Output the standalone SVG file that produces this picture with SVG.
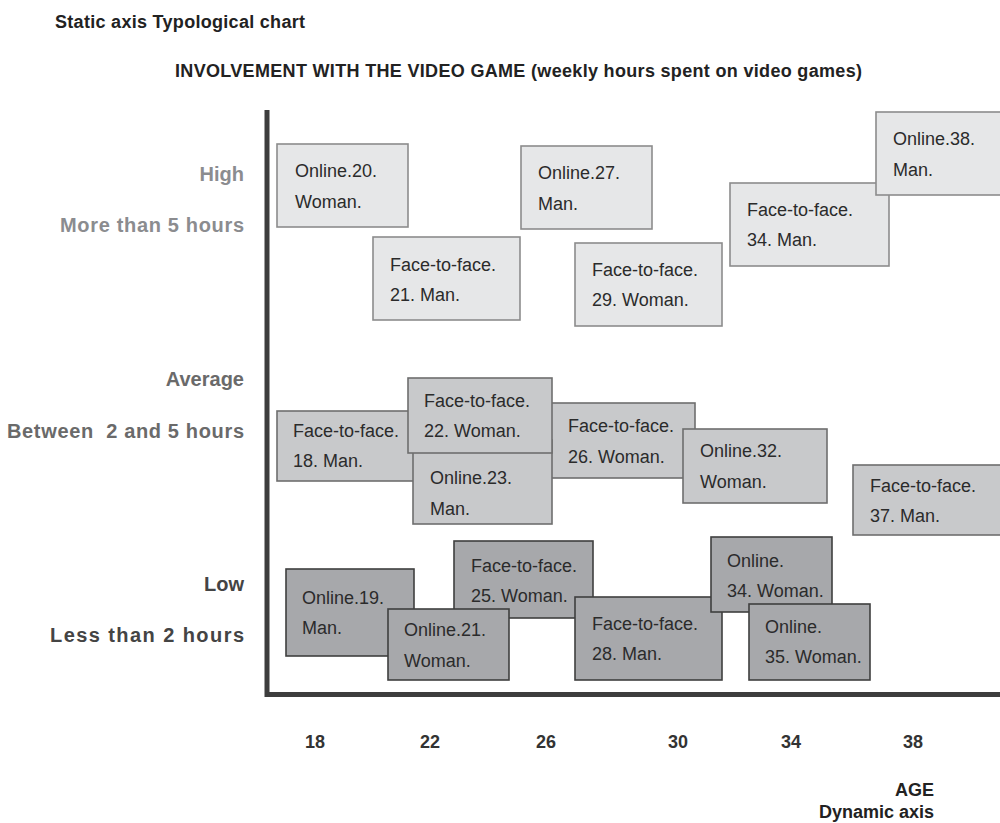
<svg xmlns="http://www.w3.org/2000/svg" width="1000" height="823" viewBox="0 0 1000 823">
<style>
text{font-family:"Liberation Sans",Arial,Helvetica,sans-serif}
.t{font-size:18px;fill:#2b2b2b}
.h{font-size:18px;font-weight:bold;fill:#222}
.lab{font-size:20px;font-weight:bold;text-anchor:end}
.num{font-size:18px;font-weight:bold;fill:#333;text-anchor:middle}
.hi rect{fill:#e6e7e8;stroke:#8c8c8c;stroke-width:1.6}
.mid rect{fill:#c8c9cb;stroke:#6e6e6e;stroke-width:1.6}
.lo rect{fill:#a7a8ab;stroke:#3f3f3f;stroke-width:1.6}
</style>
<rect width="1000" height="823" fill="#fff"/>
<text class="h" x="55" y="28" textLength="250">Static axis Typological chart</text>
<text class="h" x="175" y="77" textLength="687">INVOLVEMENT WITH THE VIDEO GAME (weekly hours spent on video games)</text>

<g id="ylabels">
<text class="lab" x="244" y="181" fill="#8b8c8f">High</text>
<text class="lab" x="244" y="232" fill="#8b8c8f" textLength="184">More than 5 hours</text>
<text class="lab" x="244" y="386" fill="#6a6a6a">Average</text>
<text class="lab" x="244" y="438" fill="#6a6a6a" textLength="237" xml:space="preserve">Between  2 and 5 hours</text>
<text class="lab" x="244" y="591" fill="#444">Low</text>
<text class="lab" x="244" y="642" fill="#444" textLength="194">Less than 2 hours</text>
</g>

<g id="axes" fill="none" stroke="#3d3d3d" stroke-width="5">
<path d="M267 110 V694.5 H1000"/>
</g>

<g id="xlabels">
<text class="num" x="315" y="748">18</text>
<text class="num" x="430" y="748">22</text>
<text class="num" x="546" y="748">26</text>
<text class="num" x="678" y="748">30</text>
<text class="num" x="791" y="748">34</text>
<text class="num" x="913" y="748">38</text>
<text class="h" x="934" y="796" text-anchor="end" fill="#333">AGE</text>
<text class="h" x="934" y="818" text-anchor="end" fill="#333">Dynamic axis</text>
</g>

<g class="hi">
<g id="online20"><rect x="277" y="144" width="131" height="83"/><text class="t" x="295" y="177">Online.20.</text><text class="t" x="295" y="208">Woman.</text></g>
<g id="online27"><rect x="521" y="146" width="131" height="83"/><text class="t" x="538" y="179">Online.27.</text><text class="t" x="538" y="210">Man.</text></g>
<g id="f2f21"><rect x="373" y="237" width="147" height="83"/><text class="t" x="390" y="271">Face-to-face.</text><text class="t" x="390" y="301">21. Man.</text></g>
<g id="f2f29"><rect x="575" y="243" width="147" height="83"/><text class="t" x="592" y="276">Face-to-face.</text><text class="t" x="592" y="306">29. Woman.</text></g>
<g id="f2f34"><rect x="730" y="183" width="159" height="83"/><text class="t" x="747" y="216">Face-to-face.</text><text class="t" x="747" y="246">34. Man.</text></g>
<g id="online38"><rect x="876" y="112" width="140" height="83"/><text class="t" x="893" y="145">Online.38.</text><text class="t" x="893" y="176">Man.</text></g>
</g>

<g class="mid">
<g id="f2f18"><rect x="277" y="411" width="150" height="70"/><text class="t" x="293" y="437">Face-to-face.</text><text class="t" x="293" y="467">18. Man.</text></g>
<g id="f2f26"><rect x="535" y="403" width="160" height="75"/><text class="t" x="568" y="432">Face-to-face.</text><text class="t" x="568" y="463">26. Woman.</text></g>
<g id="online23"><rect x="413" y="440" width="139" height="84"/><text class="t" x="430" y="484">Online.23.</text><text class="t" x="430" y="515">Man.</text></g>
<g id="f2f22"><rect x="408" y="378" width="144" height="75"/><text class="t" x="424" y="407">Face-to-face.</text><text class="t" x="424" y="437">22. Woman.</text></g>
<g id="online32"><rect x="683" y="429" width="144" height="74"/><text class="t" x="700" y="457">Online.32.</text><text class="t" x="700" y="488">Woman.</text></g>
<g id="f2f37"><rect x="853" y="465" width="160" height="70"/><text class="t" x="870" y="492">Face-to-face.</text><text class="t" x="870" y="522">37. Man.</text></g>
</g>

<g class="lo">
<g id="online19"><rect x="286" y="569" width="128" height="87"/><text class="t" x="302" y="604">Online.19.</text><text class="t" x="302" y="634">Man.</text></g>
<g id="f2f25"><rect x="454" y="541" width="139" height="77"/><text class="t" x="471" y="572">Face-to-face.</text><text class="t" x="471" y="602">25. Woman.</text></g>
<g id="online21"><rect x="388" y="609" width="121" height="71"/><text class="t" x="404" y="636">Online.21.</text><text class="t" x="404" y="667">Woman.</text></g>
<g id="f2f28"><rect x="575" y="597" width="147" height="83"/><text class="t" x="592" y="630">Face-to-face.</text><text class="t" x="592" y="660">28. Man.</text></g>
<g id="online34"><rect x="711" y="537" width="121" height="75"/><text class="t" x="727" y="567">Online.</text><text class="t" x="727" y="597">34. Woman.</text></g>
<g id="online35"><rect x="749" y="604" width="121" height="76"/><text class="t" x="765" y="633">Online.</text><text class="t" x="765" y="663">35. Woman.</text></g>
</g>
</svg>
